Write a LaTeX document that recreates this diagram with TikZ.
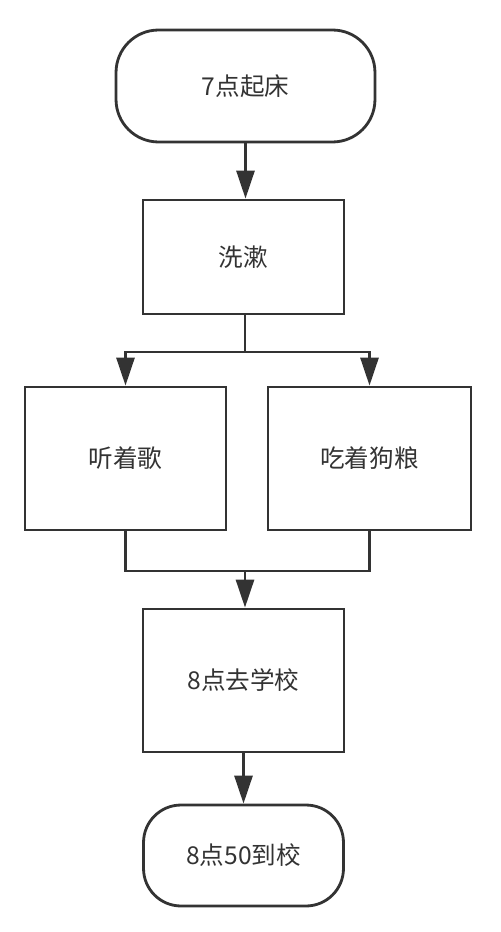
\documentclass[tikz,border=0pt]{standalone}
\usepackage{fontspec}
\newfontfamily\cjk{Noto Sans CJK SC}
\usetikzlibrary{arrows.meta,positioning,calc}
\definecolor{ink}{HTML}{333333}

\tikzset{
  stepbox/.style={draw=ink,line width=1.6pt,fill=white,text=ink,font=\cjk\fontsize{14}{17}\selectfont},
  terminal/.style={stepbox,rounded corners=0.85cm},
  flow/.style={draw=ink,line width=1.6pt},
  arr/.style={flow,-{Triangle[length=0.56cm,width=0.36cm]}}
}

\begin{document}
\begin{tikzpicture}[x=0.02cm,y=-0.02cm]
    \useasboundingbox (0,0) rectangle (500,932);
    % main chain
    \node[terminal,minimum width=5.18cm,minimum height=2.24cm] (start) at (245.5,86) {7点起床};
    \node[stepbox,minimum width=4.02cm,minimum height=2.28cm] (wash) at (243.5,257) {洗漱};
    \node[stepbox,minimum width=4.02cm,minimum height=2.86cm] (music) at (125.5,458.5) {听着歌};
    \node[stepbox,minimum width=4.06cm,minimum height=2.86cm] (food) at (369.5,458.5) {吃着狗粮};
    \node[stepbox,minimum width=4.02cm,minimum height=2.86cm] (school) at (243.5,680.5) {8点去学校};
    \node[terminal,rounded corners=0.75cm,minimum width=4.0cm,minimum height=2.02cm] (arrive) at (243.5,855.5) {8点50到校};
    % split and join points
    \coordinate (split) at (245,352);
    \coordinate (join) at (245,571);
    \draw[arr] (start) -- (start |- wash.north);
    \draw[flow] (wash.south -| split) -- (split);
    \draw[arr] (split) -| (music);
    \draw[arr] (split) -| (food);
    \draw[flow] (music) |- (join);
    \draw[flow] (food) |- (join);
    \draw[arr] (join) -- (join |- school.north);
    \draw[arr] (school) -- (arrive);
\end{tikzpicture}
\end{document}
